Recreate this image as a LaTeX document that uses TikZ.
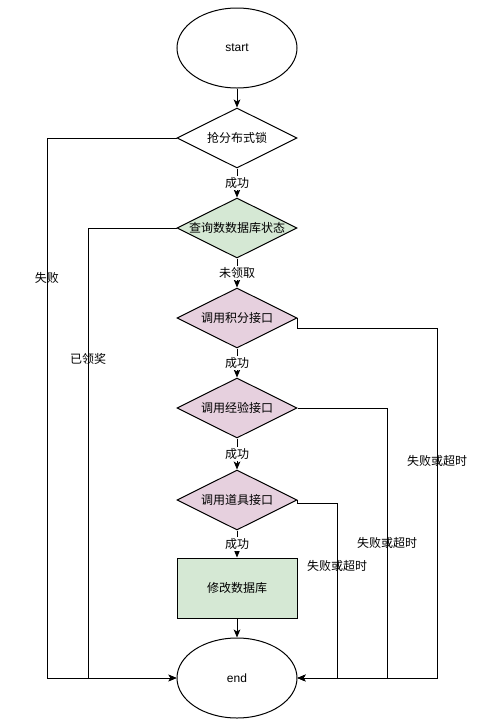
\documentclass[tikz,border=0pt]{standalone}
\usepackage{fontspec}
\setmainfont{Liberation Sans}
\newfontfamily\cjk{Noto Sans CJK SC}
\usetikzlibrary{arrows.meta,shapes.geometric}
\definecolor{okgreen}{HTML}{D5E8D4}
\definecolor{callpink}{HTML}{E6D0DE}
\tikzset{
  term/.style={draw,ellipse,line width=0.75pt,minimum width=90pt,minimum height=60pt,font=\fontsize{9}{11}\selectfont},
  dec/.style={draw,diamond,aspect=2,inner sep=0pt,line width=0.75pt,minimum width=90pt,minimum height=45pt,font=\cjk\fontsize{9}{11}\selectfont},
  proc/.style={draw,rectangle,line width=0.75pt,minimum width=90pt,minimum height=45pt,fill=okgreen,font=\cjk\fontsize{9}{11}\selectfont},
  flow/.style={line width=0.75pt,-{Stealth[length=6pt,width=5pt,inset=1.5pt]}},
  mid/.style={fill=white,inner sep=1pt,font=\cjk\fontsize{9}{11}\selectfont},
  side/.style={inner sep=1pt,font=\cjk\fontsize{9}{11}\selectfont}
}
\begin{document}
\begin{tikzpicture}[x=0.75pt,y=-0.75pt]
        \useasboundingbox (0,0) rectangle (503,726);
        % main column
        \node[term] (start) at (237,48) {start};
        \node[dec] (lock) at (237,138) {抢分布式锁};
        \node[dec,fill=okgreen] (query) at (237,228) {查询数数据库状态};
        \node[dec,fill=callpink] (score) at (237,318) {调用积分接口};
        \node[dec,fill=callpink] (exp) at (237,408) {调用经验接口};
        \node[dec,fill=callpink] (item) at (237,500) {调用道具接口};
        \node[proc] (db) at (237,588) {修改数据库};
        \node[term] (end) at (237,678) {end};
        % columns of the side lines
        \coordinate (failcol) at (47,0);
        \coordinate (donecol) at (88,0);
        \coordinate (scorecol) at (437,0);
        \coordinate (expcol) at (387,0);
        \coordinate (itemcol) at (337,0);
        \draw[flow] (start) -- (lock);
        \draw[flow] (lock) -- node[mid]{成功} (query);
        \draw[flow] (query) -- node[mid]{未领取} (score);
        \draw[flow] (score) -- node[mid]{成功} (exp);
        \draw[flow] (exp) -- node[mid]{成功} (item);
        \draw[flow] (item) -- node[mid]{成功} (db);
        \draw[flow] (db) -- (end);
        % left side
        \draw[flow] (lock.west) -- (lock.west -| failcol) |- node[pos=0.13,side]{失败} (end.west);
        \draw[flow] (query.west) -- (query.west -| donecol) |- node[pos=0.146,side]{已领奖} (end.west);
        % right side
        \draw[flow] (score.east) -- ++(0,10) -| (scorecol |- end.east) node[pos=0.69,side]{失败或超时} -- (end.east);
        \draw[flow] (exp.east) -- (exp.east -| expcol) |- node[pos=0.25,side]{失败或超时} (end.east);
        \draw[flow] (item.east) -- ++(0,3) -| (itemcol |- end.east) node[pos=0.68,side]{失败或超时} -- (end.east);
\end{tikzpicture}
\end{document}
